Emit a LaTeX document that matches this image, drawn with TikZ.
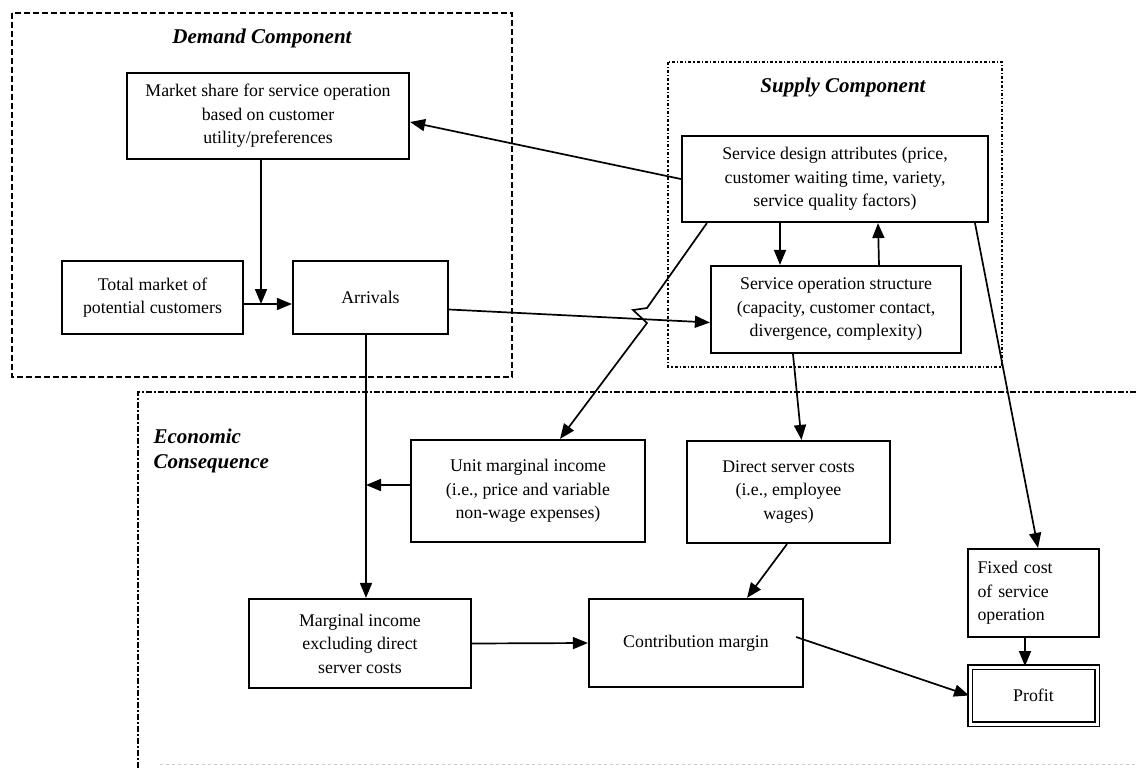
\documentclass[tikz,border=0pt]{standalone}
\usepackage{fontspec}
\setmainfont{Liberation Serif}
\usetikzlibrary{arrows.meta}

\tikzset{
  blk/.style={draw, line width=2.2pt, inner sep=2pt, align=center},
  arr/.style={line width=1.7pt, -{Triangle[length=15pt,width=12pt]}},
  title/.style={font=\fontsize{21}{25}\selectfont\bfseries\itshape},
}

\begin{document}
\begin{tikzpicture}[x=1pt, y=-1pt, font=\fontsize{17.8}{23.5}\selectfont]
\useasboundingbox (0,0) rectangle (1136,768);

% component frames
\draw[line width=1.8pt, dash pattern=on 6pt off 3pt] (12,13) rectangle (512,377);
\node[title] (demand) at (262,38) {Demand Component};
\draw[line width=1.2pt, dash dot] (668,62) rectangle (1002,367);
\node[title] (supply) at (843,87) {Supply Component};
\draw[line width=1.6pt, dash pattern=on 6pt off 2pt on 2pt off 2pt] (138,768) -- (138,392) -- (1136,392);
\draw[gray!40, line width=0.8pt, dashed] (160,764) -- (1136,764);
\node[title, align=left, anchor=north west] (econ) at (150,425) {Economic\\Consequence};

% demand side
\node[blk, minimum width=282pt, minimum height=86pt] (share) at (268,116) {Market share for service operation\\based on customer\\utility/preferences};
\node[blk, minimum width=181pt, minimum height=73pt] (total) at (152.5,297.5) {Total market of\\potential customers};
\node[blk, minimum width=155pt, minimum height=73pt] (arrivals) at (370.5,297.5) {Arrivals};

% supply side
\node[blk, minimum width=306pt, minimum height=86pt] (design) at (835,179) {Service design attributes (price,\\customer waiting time, variety,\\service quality factors)};
\node[blk, minimum width=250pt, minimum height=87pt] (oper) at (836,309.5) {Service operation structure\\(capacity, customer contact,\\divergence, complexity)};

% economic consequence
\node[blk, minimum width=234pt, minimum height=102pt] (unit) at (528,491) {Unit marginal income\\(i.e., price and variable\\non-wage expenses)};
\node[blk, minimum width=203pt, minimum height=102pt] (direct) at (788.5,492) {Direct server costs\\(i.e., employee\\wages)};
\node[blk, minimum width=131pt, minimum height=88pt, text width=112pt, align=left] (fixed) at (1033.5,593) {Fixed cost\\of service\\operation};
\node[blk, minimum width=222pt, minimum height=89pt] (marginal) at (360,643.5) {Marginal income\\excluding direct\\server costs};
\node[blk, minimum width=214pt, minimum height=88pt] (contrib) at (696,643) {Contribution margin};
\node[draw, double, line width=1.8pt, double distance=3pt, minimum width=127pt, minimum height=57pt] (profit) at (1033.5,695.5) {Profit};

\coordinate (j1) at (261,304);
\coordinate (j2) at (366,485);

\draw[arr] ([xshift=-7pt]share.south) -- (j1);
\draw[arr] ([yshift=-6.5pt]total.east) -- ([yshift=-6.5pt]arrivals.west);
\draw[arr] (design.west) -- ([yshift=-6pt]share.east);
\draw[arr] ([yshift=-12pt]arrivals.east) -- ([yshift=-13pt]oper.west);
\draw[arr] ([xshift=-55pt]design.south) -- ([xshift=-56pt]oper.north);
\draw[arr] ([xshift=43pt]oper.north) -- ([xshift=43pt]design.south);
\draw[arr] ([xshift=-43pt]oper.south) -- ([xshift=13pt]direct.north);
\draw[arr] ([xshift=140pt]design.south) -- ([xshift=4.5pt]fixed.north);
\draw[arr] ([xshift=26pt]design.south west) -- (647,308) -- (633,310) -- (647,323) -- ([xshift=32pt]unit.north);
\draw[arr] ([xshift=-4.5pt]arrivals.south) -- ([xshift=6pt]marginal.north);
\draw[arr] ([yshift=6pt]unit.west) -- (j2);
\draw[arr] (marginal.east) -- (contrib.west);
\draw[arr] ([xshift=-1.5pt]direct.south) -- ([xshift=51pt]contrib.north);
\draw[arr] ([xshift=-8pt,yshift=6pt]contrib.east) -- (profit.west);
\draw[arr] ([xshift=-8.5pt]fixed.south) -- ([xshift=-8.5pt]profit.north);

\end{tikzpicture}
\end{document}
